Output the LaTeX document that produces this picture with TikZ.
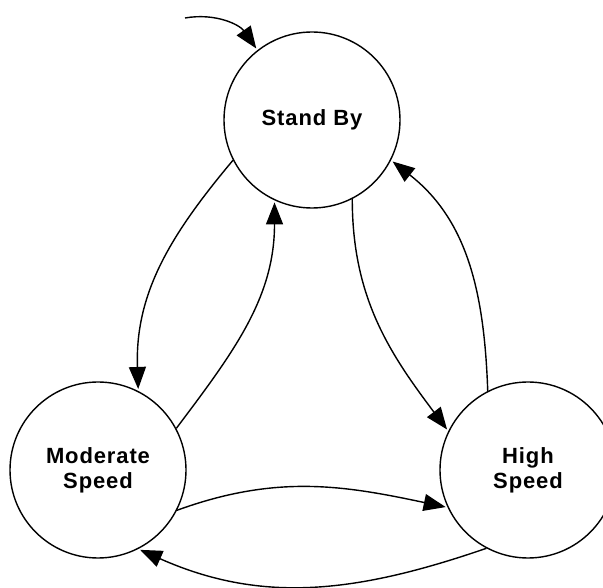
\documentclass[tikz,border=0pt]{standalone}
\usepackage{fontspec}
\setmainfont{Liberation Sans}[LetterSpace=4]
\usetikzlibrary{arrows.meta}

\begin{document}
\begin{tikzpicture}[x=1pt,y=1pt,
                    state/.style = {circle, draw, line width=1.4pt, minimum size=176pt, inner sep=0pt,
                                    align=center, font=\fontsize{22}{25.3}\selectfont\bfseries},
                    arrow/.style = {line width=1.4pt, -{Triangle[length=22pt,width=17pt]}, shorten >=2pt}]
                    \useasboundingbox (0,0) rectangle (603,587);
                    \clip (0,0) rectangle (603,587);

                    \node [state] (standby)  at (312,467) {Stand By};
                    \node [state] (moderate) at (98,117)  {Moderate\\Speed};
                    \node [state] (high)     at (528,117) {High\\Speed};

                    \coordinate (start) at (185,569);

                    \draw[arrow] (start) to[out=10,in=125] (standby.128);

                    \draw[arrow] (standby.207) to[out=230,in=92] (moderate.63);
                    \draw[arrow] (moderate.28) to[out=53,in=270] (standby.245);

                    \draw[arrow] (standby.297) to[out=270,in=127] (high.154);
                    \draw[arrow] (high.117) to[out=92,in=322] (standby.333);

                    \draw[arrow] (moderate.333) to[out=20,in=168] (high.205);
                    \draw[arrow] (high.242) to[out=199,in=336] (moderate.297);
                \end{tikzpicture}
\end{document}
